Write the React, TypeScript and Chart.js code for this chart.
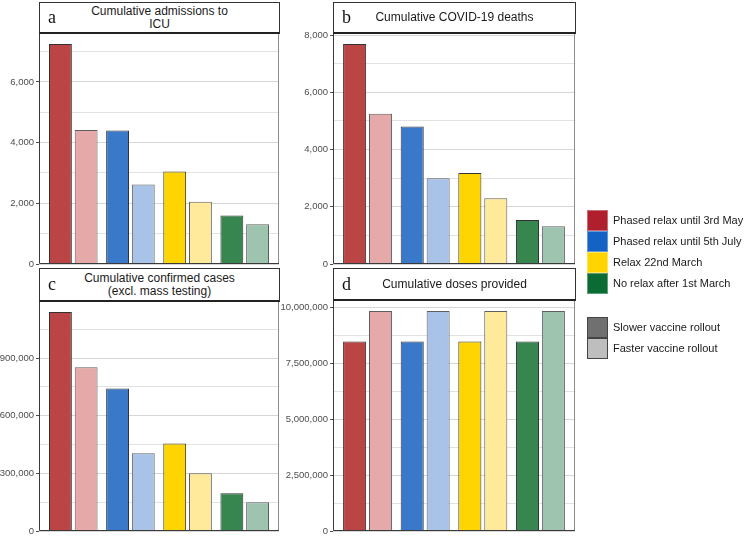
import React, { useEffect, useRef } from "react";
import { Chart, registerables } from "chart.js";

Chart.register(...registerables);

// ---- Data ----
const scenarios = [
  "Phased relax until 3rd May",
  "Phased relax until 5th July",
  "Relax 22nd March",
  "No relax after 1st March",
];
const rolloutLabels = ["Slower vaccine rollout", "Faster vaccine rollout"];

const icuSlower = [7250, 4400, 3050, 1600];
const icuFaster = [4420, 2620, 2050, 1310];
const deathsSlower = [7690, 4810, 3180, 1540];
const deathsFaster = [5250, 3000, 2300, 1320];
const casesSlower = [1140000, 742000, 455000, 196000];
const casesFaster = [852000, 404000, 300000, 149000];
const dosesSlower = [8480000, 8480000, 8480000, 8480000];
const dosesFaster = [9850000, 9850000, 9850000, 9850000];

const icuTicks = [0, 2000, 4000, 6000];
const deathsTicks = [0, 2000, 4000, 6000, 8000];
const casesTicks = [0, 300000, 600000, 900000];
const dosesTicks = [0, 2500000, 5000000, 7500000, 10000000];

// ---- Styles ----
const legendColors = ["#b01f2e", "#1463c4", "#ffd400", "#0a6b34"];
const darkBarColors = ["#bb4444", "#3a78c9", "#fed500", "#37854f"];
const lightBarColors = ["#e5a9a9", "#a8c2e8", "#ffe99a", "#9ec4b0"];
const rolloutSwatch = ["#707070", "#bebebe"];

const SANS = "'Liberation Sans', Arial, Helvetica, sans-serif";
const SERIF = "'Liberation Serif', 'Times New Roman', serif";

const framePlugin = {
  id: "frame",
  afterDatasetsDraw(chart: any) {
    const { ctx, chartArea: a } = chart;
    ctx.save();
    ctx.lineWidth = 1;
    ctx.strokeStyle = "#8c8c8c";
    ctx.beginPath();
    ctx.moveTo(a.left, a.top + 0.5);
    ctx.lineTo(a.right - 0.5, a.top + 0.5);
    ctx.lineTo(a.right - 0.5, a.bottom);
    ctx.stroke();
    ctx.strokeStyle = "#3a3a3a";
    ctx.beginPath();
    ctx.moveTo(a.left + 0.5, a.top);
    ctx.lineTo(a.left + 0.5, a.bottom - 0.5);
    ctx.lineTo(a.right, a.bottom - 0.5);
    ctx.stroke();
    ctx.restore();
  },
};

type PanelProps = {
  left: number;
  top: number;
  width: number;
  height: number;
  yAxisWidth: number;
  padding: { top: number; right: number; bottom: number; left: number };
  slower: number[];
  faster: number[];
  ticks: number[];
};

function BarPanel(p: PanelProps) {
  const ref = useRef<HTMLCanvasElement | null>(null);
  useEffect(() => {
    if (!ref.current) return;
    const yMax = Math.max(...p.slower, ...p.faster) * 1.05;
    const step = p.ticks[1] - p.ticks[0];
    const minor = p.ticks.map((t) => t + step / 2).filter((v) => v <= yMax);
    const all = [...p.ticks, ...minor].sort((a, b) => a - b);
    const majorSet = new Set(p.ticks);
    const chart = new Chart(ref.current, {
      type: "bar",
      data: {
        labels: scenarios,
        datasets: [
          {
            label: rolloutLabels[0],
            data: p.slower.map((v, i) => ({ x: i, y: v })) as any,
            backgroundColor: darkBarColors,
            borderColor: "#333333",
            borderWidth: 1,
            categoryPercentage: 0.9,
            barPercentage: 0.889,
          },
          {
            label: rolloutLabels[1],
            data: p.faster.map((v, i) => ({ x: i, y: v })) as any,
            backgroundColor: lightBarColors,
            borderColor: "#5e5e5e",
            borderWidth: 1,
            categoryPercentage: 0.9,
            barPercentage: 0.889,
          },
        ],
      },
      options: {
        responsive: false,
        maintainAspectRatio: false,
        animation: false,
        layout: { padding: p.padding },
        plugins: { legend: { display: false }, tooltip: { enabled: false } },
        scales: {
          x: {
            type: "linear",
            offset: false,
            min: -0.6,
            max: 3.6,
            grid: { display: false, offset: false },
            border: { display: false },
            ticks: { display: false },
            afterBuildTicks: (s: any) => {
              s.ticks = scenarios.map((_, i) => ({ value: i }));
            },
            afterFit: (s: any) => {
              s.height = 0;
              s.paddingLeft = 0;
              s.paddingRight = 0;
            },
          },
          y: {
            min: 0,
            max: yMax,
            afterBuildTicks: (s: any) => {
              s.ticks = all.map((v) => ({ value: v }));
            },
            afterFit: (s: any) => {
              s.width = p.yAxisWidth;
              s.paddingTop = 0;
              s.paddingBottom = 0;
            },
            border: { display: false },
            grid: {
              color: (ctx: any) =>
                ctx.tick && majorSet.has(ctx.tick.value) ? "#d6d6d6" : "#e2e2e2",
              tickColor: (ctx: any) =>
                ctx.tick && majorSet.has(ctx.tick.value) ? "#4d4d4d" : "rgba(0,0,0,0)",
              tickLength: 3,
              lineWidth: 1,
            },
            ticks: {
              autoSkip: false,
              padding: 2,
              color: "#4d4d4d",
              font: { size: 9.5, family: SANS },
              callback: (v: any) =>
                majorSet.has(Number(v)) ? Number(v).toLocaleString("en-US") : "",
            },
          },
        },
      },
      plugins: [framePlugin],
    });
    return () => chart.destroy();
  }, []);
  return (
    <canvas
      ref={ref}
      width={p.width}
      height={p.height}
      style={{
        position: "absolute",
        left: p.left,
        top: p.top,
        width: p.width,
        height: p.height,
      }}
    />
  );
}

function Header(props: {
  left: number;
  top: number;
  width: number;
  height: number;
  letter: string;
  lines: string[];
}) {
  return (
    <div
      style={{
        position: "absolute",
        left: props.left,
        top: props.top,
        width: props.width,
        height: props.height,
        boxSizing: "border-box",
        border: "1px solid #333",
        borderBottom: "2px solid #222",
        background: "#fff",
        display: "flex",
        alignItems: "center",
        justifyContent: "center",
      }}
    >
      <div
        style={{
          position: "absolute",
          left: 8,
          top: 0,
          bottom: 0,
          display: "flex",
          alignItems: "center",
          fontFamily: SERIF,
          fontSize: 18,
          color: "#111",
        }}
      >
        {props.letter}
      </div>
      <div
        style={{
          fontFamily: SANS,
          fontSize: 12,
          lineHeight: "13px",
          color: "#1a1a1a",
          textAlign: "center",
        }}
      >
        {props.lines.map((l, i) => (
          <div key={i}>{l}</div>
        ))}
      </div>
    </div>
  );
}

function LegendItem(props: { top: number; color: string; label: string; border: string }) {
  return (
    <div style={{ position: "absolute", left: 587, top: props.top, height: 21 }}>
      <div
        style={{
          position: "absolute",
          left: 0,
          top: 0,
          width: 21,
          height: 21,
          boxSizing: "border-box",
          background: props.color,
          border: props.border,
        }}
      />
      <div
        style={{
          position: "absolute",
          left: 26,
          top: 0,
          height: 21,
          lineHeight: "21px",
          whiteSpace: "nowrap",
          fontFamily: SANS,
          fontSize: 11,
          color: "#1a1a1a",
        }}
      >
        {props.label}
      </div>
    </div>
  );
}

export default function App() {
  return (
    <div
      style={{
        position: "absolute",
        left: 0,
        top: 0,
        width: 748,
        height: 537,
        background: "#fff",
        overflow: "hidden",
      }}
    >
      <BarPanel
        left={0}
        top={30}
        width={284}
        height={238}
        yAxisWidth={39}
        padding={{ top: 3, right: 5, bottom: 4, left: 0 }}
        slower={icuSlower}
        faster={icuFaster}
        ticks={icuTicks}
      />
      <BarPanel
        left={276}
        top={30}
        width={304}
        height={238}
        yAxisWidth={57}
        padding={{ top: 3, right: 5, bottom: 4, left: 0 }}
        slower={deathsSlower}
        faster={deathsFaster}
        ticks={deathsTicks}
      />
      <BarPanel
        left={0}
        top={298}
        width={284}
        height={238}
        yAxisWidth={39}
        padding={{ top: 3, right: 5, bottom: 5, left: 0 }}
        slower={casesSlower}
        faster={casesFaster}
        ticks={casesTicks}
      />
      <BarPanel
        left={276}
        top={297}
        width={304}
        height={238}
        yAxisWidth={57}
        padding={{ top: 3, right: 5, bottom: 4, left: 0 }}
        slower={dosesSlower}
        faster={dosesFaster}
        ticks={dosesTicks}
      />
      <Header left={39} top={2} width={241} height={32} letter="a" lines={["Cumulative admissions to", "ICU"]} />
      <Header left={333} top={2} width={243} height={32} letter="b" lines={["Cumulative COVID-19 deaths"]} />
      <Header
        left={39}
        top={268}
        width={241}
        height={34}
        letter="c"
        lines={["Cumulative confirmed cases", "(excl. mass testing)"]}
      />
      <Header left={333} top={268} width={243} height={33} letter="d" lines={["Cumulative doses provided"]} />
      {scenarios.map((s, i) => (
        <LegendItem
          key={s}
          top={210 + i * 21}
          color={legendColors[i]}
          label={s}
          border="1px solid rgba(255,255,255,0.35)"
        />
      ))}
      {rolloutLabels.map((s, i) => (
        <LegendItem
          key={s}
          top={317 + i * 21}
          color={rolloutSwatch[i]}
          label={s}
          border="1px solid #444"
        />
      ))}
    </div>
  );
}
